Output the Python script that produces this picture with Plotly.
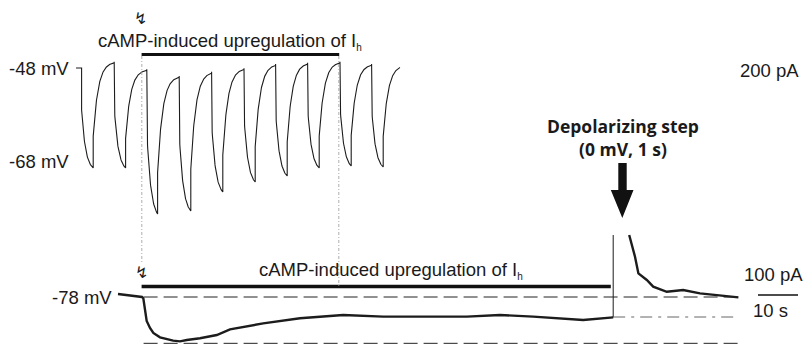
import numpy as np
import plotly.graph_objects as go

W, H = 807, 345

# ---------------- data ----------------
# time axis in seconds (cAMP application at t = 0); currents in pA
# Top trace: voltage steps -48 -> -68 mV
step_onsets = [-15.1, -6.95, 1.2, 9.3, 17.4, 25.5, 33.4, 41.4, 49.5, 57.4]
step_offsets = [-12.2, -4.1, 3.9, 12.2, 20.2, 28.3, 36.3, 44.3, 52.3, 60.3]
holding_level = [0, 31.5, -6.5, -40, -18.5, -1.5, 20, 26.5, 31.5, 20]   # current just before each step
step_end_level = [-500, -500, -730, -715, -620, -570, -540, -500, -490, -495]  # current at end of each step
final_level = 15
top_start, top_end = -16.5, 64.5
drop_fraction, tau_act = 0.42, 1.0      # instantaneous part, activation tau (s)
jump_fraction, tau_deact = 0.30, 1.25   # instantaneous tail jump, deactivation tau (s)

# Bottom trace: holding at -78 mV
bot_t = [-6, -3, 0, 0.33, 1.17, 2.0, 2.83, 4.5, 7.8, 9.5, 11.2, 14.5, 18.7, 22.0, 30.3, 39.5,
         50.3, 60.3, 69.5, 81.2, 89.5, 97.8, 110.3, 117.8, None,
         121.8, 123.25, 124.1, 126.2, 127.8, 131.2, 135.3, 139.5, 149.1]
bot_I = [7.5, 3.75, 0, -3.3, -60, -77.5, -90, -100.8, -109, -111, -107.5, -103, -95, -81, -66, -53,
         -45, -49, -49, -49, -45, -49, -57.5, -51, None,
         155, 100.8, 59, 42.5, 26, 13, 17.5, 9, -1]
step_time = 117.8          # depolarizing step onset
step_clip = [-51, 155]     # current jump at onset (clipped)

# reference levels on the bottom trace
ref_levels = [0, -115.8, -50]
ref_starts = [0.4, 0.4, 117.8]
ref_ends = [149, 149, 149]

# cAMP application bars
top_bar = dict(t0=-0.1, t1=49.3, level=67.5)
bot_bar = dict(t0=-0.1, t1=117.2, level=26.25)
guide_times = [-0.05, 49.2]
scale_bar_t = [154, 164]   # 10 s
scale_bar_level = 5

# ---------------- build top trace ----------------
tt, ii = [], []
n = len(step_onsets)
seg = np.arange(top_start, step_onsets[0], 0.05)
tt += list(seg); ii += [holding_level[0]] * len(seg)
for k in range(n):
    on, off = step_onsets[k], step_offsets[k]
    P, B = holding_level[k], step_end_level[k]
    Pn = holding_level[k + 1] if k + 1 < n else final_level
    nxt = step_onsets[k + 1] if k + 1 < n else top_end
    D = off - on
    I1 = P + drop_fraction * (B - P)
    e = np.exp(-D / tau_act)
    A = (B - I1 * e) / (1 - e)
    s = np.linspace(0, D, 60)
    tt += [on]; ii += [P]
    tt += list(on + s); ii += list(A + (I1 - A) * np.exp(-s / tau_act))
    J = B + jump_fraction * (Pn - B)
    s2 = np.linspace(0, nxt - off, 120)
    tt += list(off + s2); ii += list(Pn + (J - Pn) * np.exp(-s2 / tau_deact))

fig = go.Figure()
fig.add_trace(go.Scatter(x=tt, y=ii, mode="lines", line=dict(color="#1c1c1c", width=1.1),
                         yaxis="y", hoverinfo="skip", showlegend=False))
fig.add_trace(go.Scatter(x=bot_t, y=bot_I, mode="lines", line=dict(color="#1c1c1c", width=2.4),
                         yaxis="y2", connectgaps=False, hoverinfo="skip", showlegend=False))
fig.add_trace(go.Scatter(x=[step_time, step_time], y=step_clip, mode="lines",
                         line=dict(color="#1c1c1c", width=1), yaxis="y2",
                         hoverinfo="skip", showlegend=False))

shapes = []
styles = [dict(color="#222", width=1, dash="14px,6px"),
          dict(color="#222", width=1, dash="14px,6px"),
          dict(color="#555", width=0.9, dash="12px,6px,3px,6px")]
for lv, a, b, st in zip(ref_levels, ref_starts, ref_ends, styles):
    shapes.append(dict(type="line", xref="x", yref="y2", x0=a, x1=b, y0=lv, y1=lv, line=st))
shapes.append(dict(type="line", xref="x", yref="y", x0=top_bar["t0"], x1=top_bar["t1"],
                   y0=top_bar["level"], y1=top_bar["level"], line=dict(color="#111", width=3)))
shapes.append(dict(type="line", xref="x", yref="y2", x0=bot_bar["t0"], x1=bot_bar["t1"],
                   y0=bot_bar["level"], y1=bot_bar["level"], line=dict(color="#111", width=3.5)))
for gt, yb in zip(guide_times, [263, 287]):
    shapes.append(dict(type="line", xref="x", yref="paper", x0=gt, x1=gt, y0=1 - 56 / H, y1=1 - yb / H,
                       line=dict(color="#999", width=0.8, dash="3px,2px,1px,2px")))
shapes.append(dict(type="line", xref="x", yref="y2", x0=scale_bar_t[0], x1=scale_bar_t[1],
                   y0=scale_bar_level, y1=scale_bar_level, line=dict(color="#111", width=1.5)))

def P_(x, y):
    return f"{x / W:.5f},{1 - y / H:.5f}"
arrow = (f"M {P_(618.3,163)} L {P_(626.7,163)} L {P_(626.7,190)} L {P_(633.5,190)} "
         f"L {P_(622.3,218)} L {P_(610.8,190)} L {P_(618.3,190)} Z")
shapes.append(dict(type="path", xref="paper", yref="paper", path=arrow,
                   fillcolor="#111", line=dict(width=0)))

ann = []
def txt(text, x, y, xa="center", size=18.5, family="Liberation Sans, Arial", color="#1a1a1a"):
    ann.append(dict(text=text, x=x / W, y=1 - y / H, xref="paper", yref="paper", showarrow=False,
                    xanchor=xa, yanchor="middle", font=dict(size=size, family=family, color=color)))

sub_h = "I<sub><span style='font-size:10px'>h</span></sub>"
txt("-48 mV", 71, 68, xa="right")
txt("-68 mV", 71, 162, xa="right")
txt("-78 mV", 114, 297, xa="right")
txt("200 pA", 769, 70)
txt("100 pA", 773, 274)
txt("10 s", 770, 310)
txt("cAMP-induced upregulation of " + sub_h, 96, 42, xa="left")
txt("cAMP-induced upregulation of " + sub_h, 257, 270, xa="left")
txt("<b>Depolarizing step<br>(0 mV, 1 s)</b>", 623, 137.5, size=17.5, family="Open Sans")
txt("↯", 140, 18, size=16, family="DejaVu Sans")
txt("↯", 141, 272, size=16, family="DejaVu Sans")

fig.update_layout(
    width=W, height=H, margin=dict(l=0, r=0, t=0, b=0),
    paper_bgcolor="white", plot_bgcolor="white",
    xaxis=dict(range=[-35.5, 166.25], visible=False, fixedrange=True),
    yaxis=dict(range=[-1385, 340], visible=False, domain=[0, 1]),
    yaxis2=dict(range=[-120, 742.5], visible=False, overlaying="y"),
    shapes=shapes, annotations=ann, showlegend=False,
)
fig.write_html("out.html")
